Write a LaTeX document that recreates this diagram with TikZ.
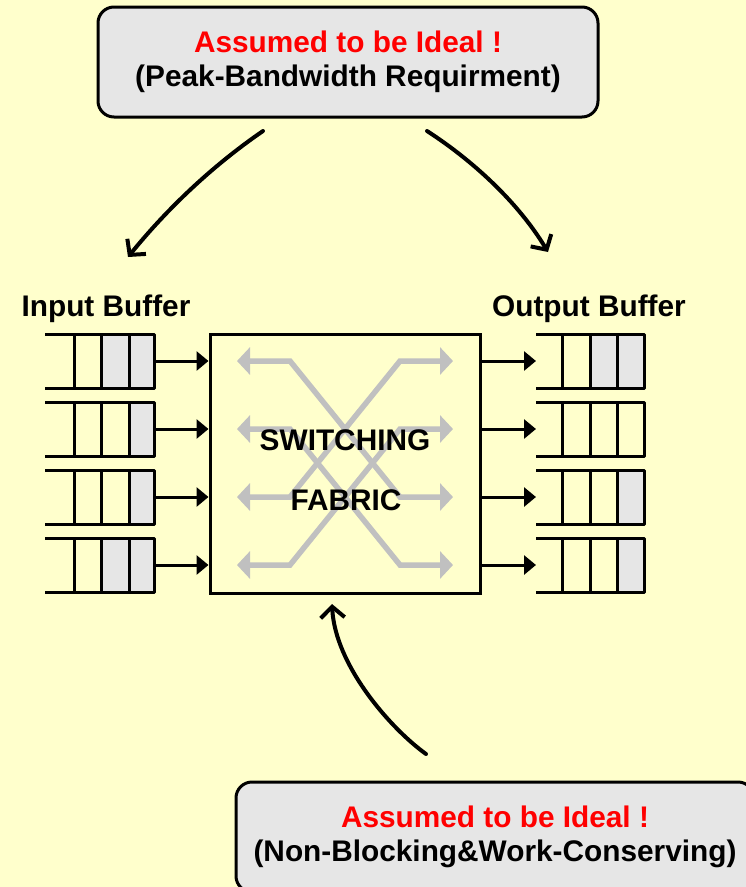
\documentclass[tikz,border=0pt]{standalone}
\usepackage{fontspec}
\setmainfont{Liberation Sans}
\usetikzlibrary{arrows.meta}
\definecolor{paper}{HTML}{FFFFCC}
\definecolor{boxgrey}{HTML}{E6E6E6}
\definecolor{routegrey}{HTML}{C0C0C0}
\definecolor{alertred}{HTML}{FF0000}
\begin{document}
\begin{tikzpicture}[x=1pt,y=-1pt,
  lbl/.style={font=\fontsize{29.8}{34}\selectfont\bfseries},
  callout/.style={draw=black, line width=3pt, fill=boxgrey, rounded corners=16pt,
    inner sep=0pt, align=center, lbl},
  fabricbox/.style={draw=black, line width=3pt, inner sep=0pt},
  qline/.style={line width=3pt, line join=round},
  qcell/.style={fill=boxgrey},
  feed/.style={line width=3pt, -{Triangle[length=12pt,width=19pt]}},
  route/.style={draw=routegrey, line width=5.5pt,
    {Triangle[length=13pt,width=27pt]}-{Triangle[length=13pt,width=27pt]}},
  hand/.style={line width=4pt, line cap=round, line join=round,
    -{Straight Barb[length=11pt,width=24pt,line width=4pt]}}
]
\useasboundingbox (0,0) rectangle (746,887);
\begin{scope}
\clip (0,0) rectangle (746,887);
\fill[paper] (0,0) rectangle (746,887);

% callout boxes
\node[callout, minimum width=500pt, minimum height=110pt] (peak) at (348,62)
  {\textcolor{alertred}{Assumed to be Ideal !}\\(Peak-Bandwidth Requirment)};
\node[callout, minimum width=518pt, minimum height=110pt] (nonblock) at (495,837)
  {\textcolor{alertred}{Assumed to be Ideal !}\\(Non-Blocking\&Work-Conserving)};

% buffer titles
\node[lbl, anchor=base] (inlbl) at (106,316) {Input Buffer};
\node[lbl, anchor=base] (outlbl) at (589,316) {Output Buffer};

% switching fabric
\node[fabricbox, minimum width=270pt, minimum height=259pt] (fab) at (345,463.5) {};

% crossing routes inside the fabric
\foreach \k/\y in {1/361,2/429,3/497,4/565}{
  \coordinate (pl\k) at (237,\y);
  \coordinate (bl\k) at (290,\y);
  \coordinate (br\k) at (400,\y);
  \coordinate (pr\k) at (453,\y);
}
\draw[route] (pl1) -- (bl1) -- (br3) -- (pr3);
\draw[route] (pr1) -- (br1) -- (bl3) -- (pl3);
\draw[route] (pl4) -- (bl4) -- (br2) -- (pr2);
\draw[route] (pr4) -- (br4) -- (bl2) -- (pl2);

\node[lbl, anchor=base] (swtxt) at (345,450) {SWITCHING};
\node[lbl, anchor=base] (fabtxt) at (346,510) {FABRIC};

% input queues: row / centre / number of occupied cells
\foreach \k/\y/\n in {1/361/2,2/429/1,3/497/1,4/565/2}{
  \ifnum\n>1 \fill[qcell] (101,\y-27) rectangle (129,\y+27); \fi
  \fill[qcell] (129,\y-27) rectangle (154,\y+27);
  \draw[qline] (45,\y-27) -- (154,\y-27) -- (154,\y+27) -- (45,\y+27);
  \draw[qline] (74,\y-27) -- (74,\y+27) (101,\y-27) -- (101,\y+27) (129,\y-27) -- (129,\y+27);
  \coordinate (in\k) at (154,\y);
  \draw[feed] (in\k) -- (in\k -| fab.west);
}

% output queues: row / centre / number of occupied cells
\foreach \k/\y/\n in {1/361/2,2/429/0,3/497/1,4/565/1}{
  \ifnum\n>1 \fill[qcell] (590,\y-27) rectangle (617,\y+27); \fi
  \ifnum\n>0 \fill[qcell] (617,\y-27) rectangle (644,\y+27); \fi
  \draw[qline] (536,\y-27) -- (644,\y-27) -- (644,\y+27) -- (536,\y+27);
  \draw[qline] (562,\y-27) -- (562,\y+27) (590,\y-27) -- (590,\y+27) (617,\y-27) -- (617,\y+27);
  \coordinate (out\k) at (536,\y);
  \draw[feed] (fab.east |- out\k) -- (out\k);
}

% hand-drawn pointers
\coordinate (hs1) at (263,131);
\coordinate (he1) at (128,257);
\coordinate (hs2) at (427,131);
\coordinate (he2) at (548,252);
\coordinate (hs3) at (426,754);
\coordinate (he3) at (332,604);
\draw[hand] (hs1) .. controls (212,166) and (167,209) .. (he1);
\draw[hand] (hs2) .. controls (472,160) and (518,202) .. (he2);
\draw[hand] (hs3) .. controls (390,728) and (335,665) .. (he3);
\end{scope}
\end{tikzpicture}
\end{document}
